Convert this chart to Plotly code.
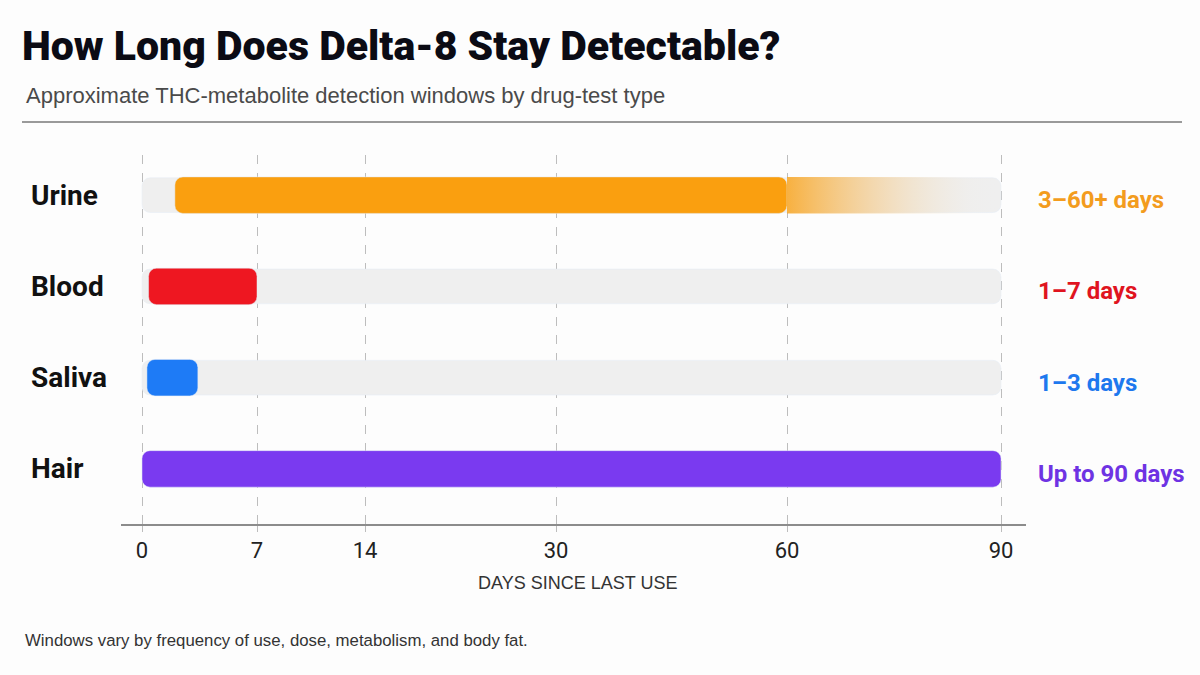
import numpy as np
import plotly.graph_objects as go

# ---------------- data ----------------
categories = ["Urine", "Blood", "Saliva", "Hair"]
start_days = [2, 0.4, 0.3, 0]
end_days = [60, 7, 3.4, 90]
fade_end_days = [90, None, None, None]          # urine "60+" fading tail
range_labels = ["3–60+ days", "1–7 days", "1–3 days", "Up to 90 days"]
tick_days = [0, 7, 14, 30, 60, 90]
tick_labels = ["0", "7", "14", "30", "60", "90"]
track_end_day = 90

# ---------------- styles ----------------
bar_colors = ["#FA9F0F", "#EE1721", "#1E7BF6", "#7A3AF0"]
label_colors = ["#F39C1E", "#E0141F", "#1E78EE", "#6E33E3"]
# non-linear (piecewise) axis layout: screen position of each tick
tick_positions = [0, 115, 223, 414, 645, 859]


def scale(d):
    return np.interp(d, tick_days, tick_positions)


COND = "Roboto, Liberation Sans, sans-serif"
REG = "Liberation Sans, Arial, sans-serif"

rows = list(range(len(categories)))
BAR_W = 0.40
TRACK_W = 0.38

fig = go.Figure()

# background tracks
fig.add_trace(go.Bar(
    y=rows, x=[scale(track_end_day)] * len(rows), base=[scale(0)] * len(rows),
    orientation="h", width=TRACK_W, marker=dict(color="#EFEFEF", cornerradius=8),
    hoverinfo="skip", showlegend=False))

# fading tails
for i, fe in enumerate(fade_end_days):
    if fe is None:
        continue
    x0, x1 = scale(end_days[i]), scale(fe)
    y0, y1 = i - BAR_W / 2, i + BAR_W / 2
    fig.add_trace(go.Scatter(
        x=[x0, x1, x1, x0, x0], y=[y0, y0, y1, y1, y0], mode="lines",
        line=dict(width=0), fill="toself",
        fillgradient=dict(type="horizontal", colorscale=[
            [0, "rgba(250,159,15,0.78)"],
            [0.45, "rgba(246,200,130,0.5)"],
            [0.85, "rgba(240,236,228,0.2)"],
            [1, "rgba(239,239,239,0)"]]),
        hoverinfo="skip", showlegend=False))

# detection windows
fig.add_trace(go.Bar(
    y=rows,
    x=[scale(e) - scale(s) for s, e in zip(start_days, end_days)],
    base=[scale(s) for s in start_days],
    orientation="h", width=BAR_W,
    marker=dict(color=bar_colors, cornerradius=8),
    hoverinfo="skip", showlegend=False))


def py(pix):
    return (524 - pix) / 369


def px(pix):
    return (pix - 121) / 905


annotations = []
# row labels (left) and range labels (right)
for i, (cat, lab) in enumerate(zip(categories, range_labels)):
    annotations.append(dict(
        x=px(29), y=i, xref="paper", yref="y", text=cat, showarrow=False,
        xanchor="left", yanchor="middle",
        font=dict(family=COND, size=28, color="#111111", weight=700)))
    annotations.append(dict(
        x=px(1036), y=i, xref="paper", yref="y", text=lab, showarrow=False,
        xanchor="left", yanchor="middle", yshift=-5,
        font=dict(family=COND, size=24, color=label_colors[i], weight=700)))

annotations += [
    dict(x=px(20), y=py(46), xref="paper", yref="paper", showarrow=False,
         xanchor="left", yanchor="middle",
         text="How Long Does Delta-8 Stay Detectable?",
         font=dict(family=COND, size=41, color="#0B0B14", weight=900)),
    dict(x=px(24), y=py(96), xref="paper", yref="paper", showarrow=False,
         xanchor="left", yanchor="middle",
         text="Approximate THC-metabolite detection windows by drug-test type",
         font=dict(family=REG, size=22, color="#4A4A4A")),
    dict(x=px(577), y=py(583), xref="paper", yref="paper", showarrow=False,
         xanchor="center", yanchor="middle", text="DAYS SINCE LAST USE",
         font=dict(family=REG, size=18, color="#333333")),
    dict(x=px(23), y=py(640), xref="paper", yref="paper", showarrow=False,
         xanchor="left", yanchor="middle",
         text="Windows vary by frequency of use, dose, metabolism, and body fat.",
         font=dict(family=REG, size=16.8, color="#333333")),
]

fig.update_layout(
    width=1200, height=675,
    margin=dict(l=121, r=174, t=155, b=151),
    paper_bgcolor="#FDFDFD", plot_bgcolor="#FDFDFD",
    barmode="overlay",
    showlegend=False,
    annotations=annotations,
    shapes=[dict(type="line", xref="paper", yref="paper",
                 x0=px(22), x1=px(1182), y0=py(122), y1=py(122),
                 line=dict(color="#9A9A9A", width=2))],
    xaxis=dict(
        range=[-21, 884], tickvals=[scale(d) for d in tick_days], ticktext=tick_labels,
        showgrid=True, gridcolor="#BDBDBD", griddash="dash", gridwidth=1,
        showline=True, linecolor="#8C8C8C", linewidth=2,
        ticks="outside", ticklen=6, tickcolor="#BDBDBD",
        zeroline=False, fixedrange=True,
        tickfont=dict(family=COND, size=22, color="#222222"),
    ),
    yaxis=dict(
        range=[3.604, -0.44], showticklabels=False, showgrid=False,
        zeroline=False, showline=False, fixedrange=True,
    ),
)

fig.write_html("out.html")
